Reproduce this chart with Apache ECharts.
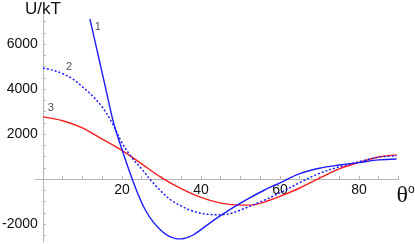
<!DOCTYPE html>
<html>
<head>
<meta charset="utf-8">
<script src="https://cdn.jsdelivr.net/npm/echarts@6/dist/echarts.min.js"></script>
<style>html,body{margin:0;padding:0;background:#fff}#c{width:415px;height:244px}</style>
</head>
<body>
<div id="c"></div>
<script>
// Curve 1 (solid blue)
const x1 = [11.9, 14, 16, 18, 20, 22, 24, 26, 28, 30, 31, 32, 33, 34, 35, 36, 37, 38, 40, 44, 48, 52, 56, 60, 65, 70, 75, 80, 85, 89.5];
const y1 = [7110, 5490, 3940, 2420, 1320, 290, -640, -1400, -1930, -2300, -2440, -2550, -2620, -2660, -2660, -2630, -2570, -2490, -2250, -1740, -1280, -870, -500, -170, 240, 480, 620, 730, 850, 890];
// Curve 2 (dotted blue)
const x2 = [0, 2.5, 5, 7.5, 10, 12.5, 15, 17.5, 20, 22.5, 25, 27.5, 30, 32.5, 35, 37.5, 40, 42.5, 45, 47.5, 50, 55, 60, 65, 70, 75, 80, 85, 89.5];
const y2 = [4930, 4840, 4680, 4450, 4100, 3700, 3200, 2500, 1620, 950, 450, -100, -560, -950, -1200, -1400, -1520, -1580, -1590, -1530, -1380, -1020, -620, -160, 250, 540, 770, 970, 1030];
// Curve 3 (red)
const x3 = [0, 5, 10, 15, 20, 25, 30, 35, 40, 45, 50, 52.5, 55, 60, 65, 70, 75, 80, 85, 89.5];
const y3 = [2760, 2590, 2270, 1770, 1270, 670, 60, -430, -820, -1070, -1160, -1160, -1080, -770, -400, 40, 450, 740, 980, 1070];
// Curve number labels
const annoX = [13.9, 6.6, 2.0];
const annoY = [6750, 4980, 3150];
const annoText = ['1', '2', '3'];
// Ticks
const xLabels = [20, 40, 60, 80];
const xTicks = [5, 10, 15, 20, 25, 30, 35, 40, 45, 50, 55, 60, 65, 70, 75, 80, 85, 90];
const yLabels = [-2000, 2000, 4000, 6000];
const yTicks = [-2500, -2000, -1500, -1000, -500, 500, 1000, 1500, 2000, 2500, 3000, 3500, 4000, 4500, 5000, 5500, 6000, 6500, 7000];

const W = 415, H = 244;
const G = {left: 35, right: 16.5, top: 14.75, bottom: 2};
const XMIN = -2, XMAX = 90, YMIN = -2800, YMAX = 7300;
// axes cross at the origin: shift each axis from the grid edge to the other's zero
const gw = W - G.left - G.right, gh = H - G.top - G.bottom;
const xAxisOffset = -((0 - YMIN) / (YMAX - YMIN)) * gh;
const yAxisOffset = -((0 - XMIN) / (XMAX - XMIN)) * gw;

const zip = (a, b) => a.map((v, i) => [v, b[i]]);
const axisGray = '#b4b4b4';
const chart = echarts.init(document.getElementById('c'), null, {renderer: 'canvas'});
chart.setOption({
  animation: false,
  grid: Object.assign({containLabel: false, outerBoundsMode: 'none'}, G),
  xAxis: {
    type: 'value', min: XMIN, max: XMAX, position: 'bottom', offset: xAxisOffset,
    name: '{t|θ}{s|o}', nameLocation: 'end', nameGap: -2,
    nameTextStyle: {
      align: 'left', verticalAlign: 'top', padding: [5, 0, 0, 0],
      rich: {
        t: {fontFamily: 'Liberation Serif', fontSize: 24, color: '#111', verticalAlign: 'top', lineHeight: 24},
        s: {fontFamily: 'Liberation Sans', fontSize: 12, color: '#111', verticalAlign: 'top', lineHeight: 12}
      }
    },
    axisLine: {onZero: false, lineStyle: {color: axisGray, width: 1}},
    axisTick: {inside: true, length: 3, customValues: xTicks, lineStyle: {color: axisGray}},
    axisLabel: {customValues: xLabels, margin: 4, fontFamily: 'Liberation Sans', fontSize: 14, color: '#111', formatter: v => String(v)},
    splitLine: {show: false}
  },
  yAxis: {
    type: 'value', min: YMIN, max: YMAX, position: 'left', offset: yAxisOffset,
    name: 'U/kT', nameLocation: 'end', nameGap: -3,
    nameTextStyle: {fontFamily: 'Liberation Sans', fontSize: 17, color: '#111', align: 'center', verticalAlign: 'bottom'},
    axisLine: {onZero: false, lineStyle: {color: axisGray, width: 1}},
    axisTick: {inside: true, length: 3, customValues: yTicks, lineStyle: {color: axisGray}},
    axisLabel: {customValues: yLabels, margin: 5, fontFamily: 'Liberation Sans', fontSize: 14, color: '#111', formatter: v => String(v)},
    splitLine: {show: false}
  },
  series: [
    {type: 'line', data: zip(x3, y3), showSymbol: false, smooth: 0.35, lineStyle: {color: '#ff1c1c', width: 1.4}},
    {type: 'line', data: zip(x2, y2), showSymbol: false, smooth: 0.35, lineStyle: {color: '#1c1cff', width: 1.5, type: [2, 2]}},
    {type: 'line', data: zip(x1, y1), showSymbol: false, smooth: 0.35, lineStyle: {color: '#1c1cff', width: 1.4}},
    {type: 'scatter', symbolSize: 0, data: zip(annoX, annoY).map((p, i) => ({value: p, name: annoText[i]})),
     label: {show: true, position: 'inside', formatter: p => p.name, fontFamily: 'Liberation Sans', fontSize: 11, color: '#222'}}
  ]
});
</script>
</body>
</html>
